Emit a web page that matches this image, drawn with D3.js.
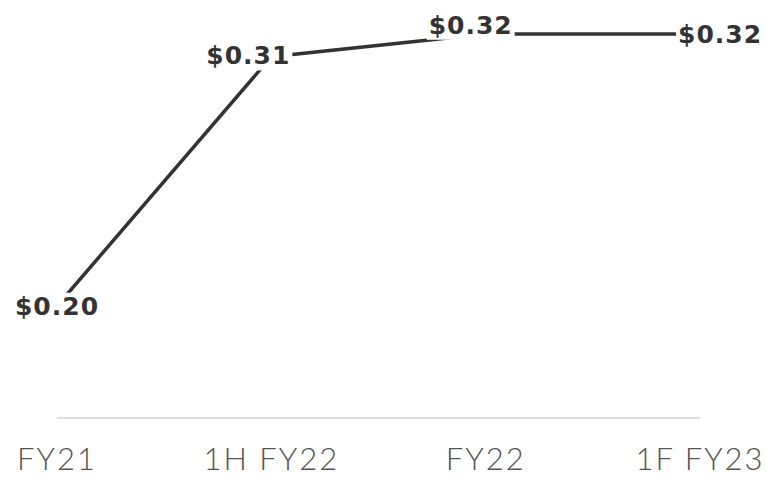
<!DOCTYPE html>
<html>
<head>
<meta charset="utf-8">
<script src="https://cdn.jsdelivr.net/npm/d3@7"></script>
<style>
	body { margin: 0; background: #fff; }
	svg { display: block; }
	.value-label { font-family: "DejaVu Sans", sans-serif; font-weight: bold; font-size: 25px; letter-spacing: 1px; fill: #333; }
	.cat-label { font-family: Lato, sans-serif; font-weight: 300; font-size: 31px; letter-spacing: 2px; fill: #555; }
</style>
</head>
<body>
<svg id="chart" width="767" height="485"></svg>
<script>
// Dividend per share by period
const categories = ["FY21", "1H FY22", "FY22", "1F FY23"];
const values = [0.20, 0.31, 0.32, 0.32];
const valueLabels = ["$0.20", "$0.31", "$0.32", "$0.32"];

// label placement around each point: anchor, dx, dy
const labelPlace = [
	{ anchor: "middle", dx: 0, dy: 0 },
	{ anchor: "end", dx: 19, dy: -1 },
	{ anchor: "middle", dx: -15, dy: -9 },
	{ anchor: "start", dx: -22, dy: 0 }
];

const svg = d3.select("#chart");

const x = d3.scalePoint()
	.domain(categories)
	.range([57, 700]);

const y = d3.scaleLinear()
	.domain([0.20, 0.32])
	.range([306, 34]);

// baseline
svg.append("line")
	.attr("x1", x(categories[0]))
	.attr("x2", x(categories[categories.length - 1]))
	.attr("y1", 418)
	.attr("y2", 418)
	.attr("stroke", "#e0e0e0")
	.attr("stroke-width", 2);

// category labels
svg.append("g")
	.selectAll("text")
	.data(categories)
	.join("text")
	.attr("class", "cat-label")
	.attr("x", d => x(d))
	.attr("y", 470)
	.attr("text-anchor", "middle")
	.text(d => d);

const points = categories.map((c, i) => ({ cat: c, val: values[i], label: valueLabels[i], place: labelPlace[i] }));

const line_generator = d3.line()
	.x(d => x(d.cat))
	.y(d => y(d.val));

svg.append("path")
	.attr("d", line_generator(points))
	.attr("fill", "none")
	.attr("stroke", "#333")
	.attr("stroke-width", 3.5);

// value labels sit on a white box that knocks out the line
const labels = svg.append("g")
	.selectAll("g")
	.data(points)
	.join("g")
	.attr("transform", d => `translate(${x(d.cat) + d.place.dx},${y(d.val) + d.place.dy})`);

labels.append("text")
	.attr("class", "value-label")
	.attr("text-anchor", d => d.place.anchor)
	.attr("dy", "0.35em")
	.text(d => d.label);

labels.each(function() {
	const g = d3.select(this);
	const bb = g.select("text").node().getBBox();
	g.insert("rect", "text")
		.attr("x", bb.x - 2)
		.attr("y", bb.y + 1)
		.attr("width", bb.width + 4)
		.attr("height", bb.height - 1)
		.attr("fill", "#fff");
});
</script>
</body>
</html>
